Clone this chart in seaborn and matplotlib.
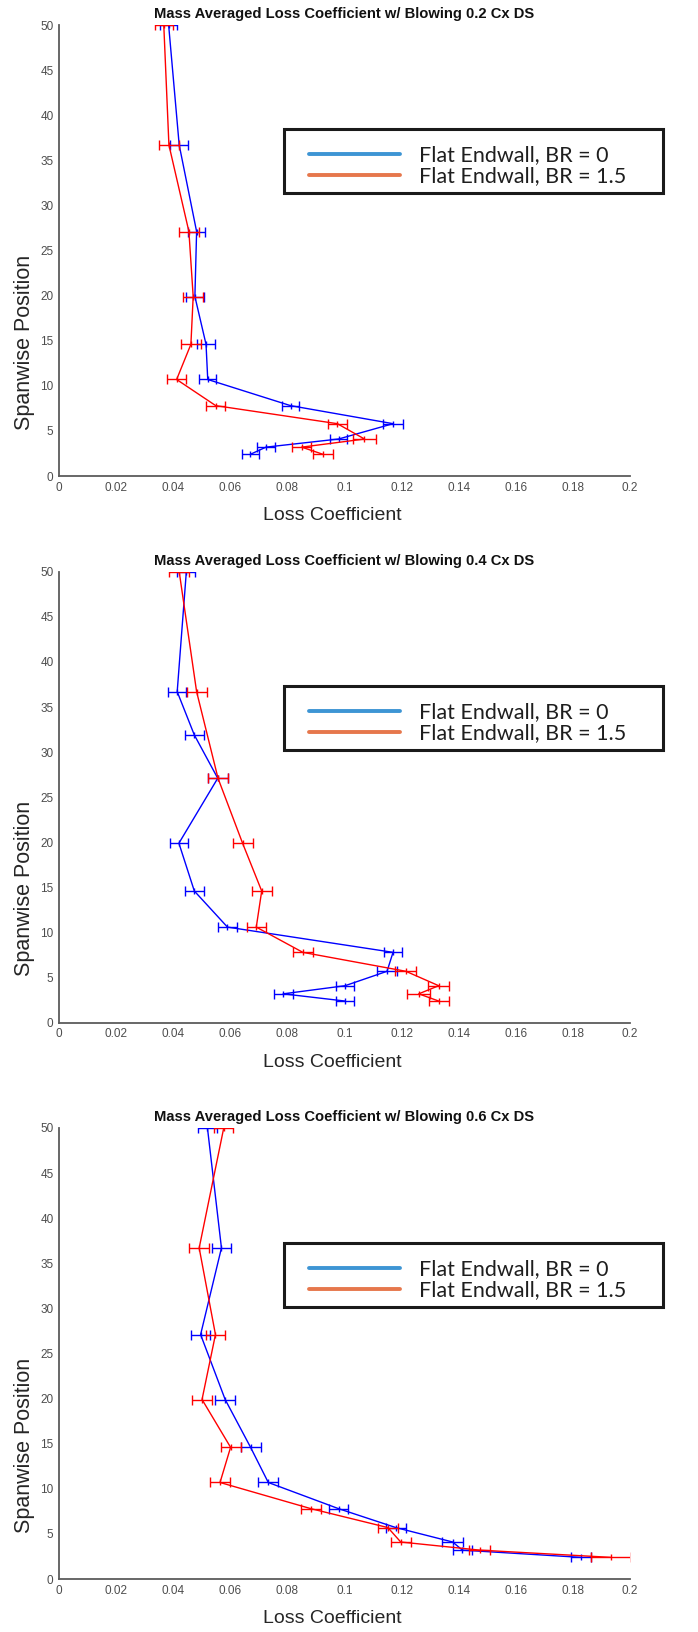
import matplotlib
matplotlib.use("Agg")
import matplotlib.pyplot as plt
from matplotlib.lines import Line2D
from matplotlib.patches import Rectangle
from matplotlib.ticker import FuncFormatter
import numpy as np
import pandas as pd
import seaborn as sns

# ---------------------------------------------------------------- data
titles = [
    "Mass Averaged Loss Coefficient w/ Blowing 0.2 Cx DS",
    "Mass Averaged Loss Coefficient w/ Blowing 0.4 Cx DS",
    "Mass Averaged Loss Coefficient w/ Blowing 0.6 Cx DS",
]
series_labels = ["Flat Endwall, BR = 0", "Flat Endwall, BR = 1.5"]

# 0.2 Cx downstream
span_02 = [2.4, 3.2, 4.1, 5.8, 7.8, 10.7, 14.6, 19.9, 27.1, 36.7, 50.0]
br0_02 = [0.0670, 0.0725, 0.0979, 0.1170, 0.0811, 0.0521, 0.0515, 0.0476, 0.0482, 0.0421, 0.0384]
br0_02_err = [0.0030, 0.0030, 0.0030, 0.0035, 0.0030, 0.0030, 0.0030, 0.0031, 0.0031, 0.0031, 0.0030]
br15_02 = [0.0925, 0.0850, 0.1070, 0.0975, 0.0549, 0.0412, 0.0462, 0.0470, 0.0455, 0.0385, 0.0367]
br15_02_err = [0.0034, 0.0034, 0.0040, 0.0034, 0.0033, 0.0033, 0.0034, 0.0034, 0.0034, 0.0035, 0.0031]

# 0.4 Cx downstream
span_04_br0 = [2.4, 3.2, 4.1, 5.7, 7.8, 10.6, 14.6, 19.9, 27.1, 31.9, 36.7, 50.0]
br0_04 = [0.1002, 0.0785, 0.1002, 0.1149, 0.1170, 0.0590, 0.0474, 0.0420, 0.0556, 0.0474, 0.0414, 0.0446]
br0_04_err = [0.0033, 0.0033, 0.0033, 0.0034, 0.0032, 0.0032, 0.0033, 0.0032, 0.0035, 0.0033, 0.0032, 0.0032]
span_04_br15 = [2.4, 3.2, 4.1, 5.7, 7.8, 10.6, 14.6, 19.9, 27.1, 36.7, 50.0]
br15_04 = [0.1330, 0.1260, 0.1330, 0.1215, 0.0854, 0.0691, 0.0710, 0.0643, 0.0557, 0.0482, 0.0421]
br15_04_err = [0.0035, 0.0040, 0.0037, 0.0037, 0.0035, 0.0034, 0.0035, 0.0035, 0.0034, 0.0035, 0.0034]

# 0.6 Cx downstream
span_06 = [2.4, 3.2, 4.1, 5.7, 7.8, 10.7, 14.6, 19.9, 27.1, 36.7, 50.0]
br0_06 = [0.1827, 0.1413, 0.1379, 0.1180, 0.0979, 0.0733, 0.0671, 0.0582, 0.0496, 0.0569, 0.0520]
br0_06_err = [0.0035, 0.0033, 0.0036, 0.0036, 0.0034, 0.0035, 0.0035, 0.0034, 0.0032, 0.0032, 0.0033]
br15_06 = [0.1932, 0.1474, 0.1197, 0.1152, 0.0882, 0.0564, 0.0601, 0.0501, 0.0548, 0.0491, 0.0577]
br15_06_err = [0.0070, 0.0037, 0.0035, 0.0036, 0.0034, 0.0035, 0.0035, 0.0034, 0.0034, 0.0034, 0.0034]

x_ticks = [0, 0.02, 0.04, 0.06, 0.08, 0.1, 0.12, 0.14, 0.16, 0.18, 0.2]
y_ticks = [0, 5, 10, 15, 20, 25, 30, 35, 40, 45, 50]

panels = [
    (span_02, br0_02, br0_02_err, span_02, br15_02, br15_02_err),
    (span_04_br0, br0_04, br0_04_err, span_04_br15, br15_04, br15_04_err),
    (span_06, br0_06, br0_06_err, span_06, br15_06, br15_06_err),
]

# ---------------------------------------------------------------- style
sns.set_style("white")
plt.rcParams["font.family"] = ["Liberation Sans", "DejaVu Sans"]

DATA_BLUE = "#0000ff"
DATA_RED = "#ff0000"
LEG_BLUE = "#3d95d4"
LEG_ORANGE = "#e6774c"
AXIS_GRAY = "#5c5c5c"
TICK_GRAY = "#4d4d4d"

W, H = 698, 1632
fig = plt.figure(figsize=(W / 100, H / 100), dpi=100)

ax_left, ax_w, ax_h = 59 / W, 571 / W, 451 / H
ax_bottoms = [1 - 476 / H, 1 - 1022.7 / H, 1 - 1579 / H]
legend_tops = [129, 686, 1243]   # pixel row of each legend box's top edge


def draw_series(ax, span, loss, err, color):
    df = pd.DataFrame({"loss": loss, "span": span})
    sns.lineplot(data=df, x="loss", y="span", orient="y", sort=True,
                 errorbar=None, color=color, lw=1.0, ax=ax, legend=False)
    ax.errorbar(loss, span, xerr=err, fmt="none", ecolor=color,
                elinewidth=1.0, capsize=3.5, capthick=1.0)
    ax.plot(loss, span, ls="none", marker="|", ms=4, mew=1.0, color=color)


for i, (yb, xb, eb, yr, xr, er) in enumerate(panels):
    ax = fig.add_axes([ax_left, ax_bottoms[i], ax_w, ax_h])
    draw_series(ax, yb, xb, eb, DATA_BLUE)
    draw_series(ax, yr, xr, er, DATA_RED)

    ax.set_xlim(0, 0.2)
    ax.set_ylim(0, 50)
    ax.set_xticks(x_ticks)
    ax.set_yticks(y_ticks)
    ax.xaxis.set_major_formatter(FuncFormatter(lambda v, p: f"{v:g}"))
    ax.yaxis.set_major_formatter(FuncFormatter(lambda v, p: f"{v:g}"))
    ax.tick_params(direction="in", length=4, width=1.0, color=AXIS_GRAY,
                   labelcolor=TICK_GRAY, labelsize=8.5, pad=4)
    for side in ("top", "right"):
        ax.spines[side].set_visible(False)
    for side in ("left", "bottom"):
        ax.spines[side].set_color(AXIS_GRAY)
        ax.spines[side].set_linewidth(1.3)

    ax.set_xlabel("Loss Coefficient", fontsize=14, color="#262626", labelpad=10)
    ax.xaxis.label.set_x(0.478)
    ax.set_ylabel("Spanwise Position", fontsize=15.5, color="#262626", labelpad=4)
    ax.yaxis.label.set_y(0.297)
    ax.set_title(titles[i], fontsize=10.6, fontweight="bold", color="#111111", pad=5)

    # legend box drawn as its own frame, contents placed inside it
    top = legend_tops[i]
    frame = Rectangle((284 / W, 1 - (top + 64) / H), 379 / W, 64 / H,
                      transform=fig.transFigure, clip_on=False,
                      facecolor="white", edgecolor="#1a1a1a", lw=2.2, zorder=4)
    ax.add_artist(frame)

    handles = [Line2D([], [], color=LEG_BLUE, lw=2.8),
               Line2D([], [], color=LEG_ORANGE, lw=2.8)]
    leg = ax.legend(handles, series_labels, loc="center left",
                    bbox_to_anchor=(309 / W, 1 - (top + 37) / H),
                    bbox_transform=fig.transFigure, frameon=False,
                    borderpad=0, borderaxespad=0,
                    handlelength=4.23, handletextpad=0.88, labelspacing=0.05,
                    prop={"family": ["Lato", "DejaVu Sans"], "size": 15.5})
    leg.set_zorder(5)
    for t in leg.get_texts():
        t.set_color("#1e1e1e")

fig.savefig("out.png", dpi=100)
